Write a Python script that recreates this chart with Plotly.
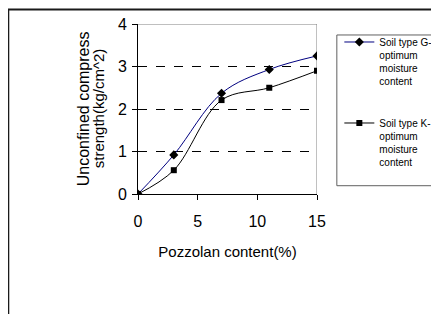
import plotly.graph_objects as go

# ---- data ----
pozzolan = [0, 3, 7, 11, 15]
soil_g = [0.0, 0.92, 2.37, 2.93, 3.25]
soil_k = [0.0, 0.56, 2.21, 2.50, 2.90]
name_g = "Soil type G-<br>optimum<br>moisture<br>content"
name_k = "Soil type K-<br>optimum<br>moisture<br>content"
x_ticks = [0, 5, 10, 15]
y_ticks = [0, 1, 2, 3, 4]

OFF = 8  # page body margin
W, H = 439 - OFF, 314 - OFF
# plot area in page pixels
PL, PR, PT, PB = 138, 316.7, 24, 194.3
L, R, T, B = PL - OFF, PR - OFF, PT - OFF, PB - OFF
pw, ph = R - L, B - T

def px_x(p):  # page px -> paper
    return (p - OFF - L) / pw

def px_y(p):
    return (B - (p - OFF)) / ph

FONT = "Liberation Sans, Arial, sans-serif"

fig = go.Figure()
fig.add_trace(go.Scatter(
    x=pozzolan, y=soil_g, name=name_g, mode="lines+markers",
    line=dict(color="#000080", width=1, shape="spline", smoothing=1),
    marker=dict(symbol="diamond", size=7, color="black"),
    legendgroup="g",
))
fig.add_trace(go.Scatter(
    x=pozzolan, y=soil_k, name=name_k, mode="lines+markers",
    line=dict(color="black", width=1, shape="spline", smoothing=1),
    marker=dict(symbol="square", size=6, color="black"),
    legendgroup="k",
))

fig.update_layout(
    width=W, height=H,
    margin=dict(l=L, r=W - R, t=T, b=H - B, pad=0, autoexpand=False),
    paper_bgcolor="white", plot_bgcolor="white",
    font=dict(family=FONT, color="black", size=15),
    showlegend=True,
    legend=dict(
        x=px_x(339), y=px_y(29), xanchor="left", yanchor="top",
        font=dict(size=10, family=FONT, color="black"),
        valign="top", tracegroupgap=26, borderwidth=0,
        bgcolor="rgba(0,0,0,0)", itemwidth=30,
    ),
    xaxis=dict(
        range=[0, 15], tickvals=x_ticks, showgrid=False, zeroline=False,
        showline=True, linecolor="black", linewidth=1,
        ticks="outside", ticklen=5, tickcolor="black",
        tickfont=dict(size=16), ticklabelstandoff=8, automargin=False,
        title=dict(text="Pozzolan content(%)", font=dict(size=15), standoff=17),
    ),
    yaxis=dict(
        range=[0, 4], tickvals=y_ticks, showgrid=True, gridcolor="black",
        griddash="dash", gridwidth=1, zeroline=False,
        showline=True, linecolor="black", linewidth=1,
        ticks="outside", ticklen=5, tickcolor="black",
        tickfont=dict(size=16), ticklabelstandoff=2, automargin=False,
    ),
    shapes=[
        # grey top and right plot frame
        dict(type="line", xref="x", yref="y", x0=0, x1=15, y0=4, y1=4,
             line=dict(color="#808080", width=1), layer="between"),
        dict(type="line", xref="x", yref="y", x0=15, x1=15, y0=0, y1=4,
             line=dict(color="#808080", width=1), layer="between"),
        # legend box
        dict(type="rect", xref="paper", yref="paper",
             x0=px_x(336.5), x1=px_x(460), y0=px_y(186), y1=px_y(35),
             line=dict(color="#606060", width=1), layer="below"),
        # outer chart border
        dict(type="rect", xref="paper", yref="paper",
             x0=px_x(8.5), x1=px_x(470), y0=px_y(340), y1=px_y(9.5),
             line=dict(color="#1a1a1a", width=2), layer="below"),
    ],
    annotations=[
        dict(text="Unconfined compress", xref="paper", yref="paper",
             x=px_x(83), y=px_y(108.5), textangle=-90, showarrow=False,
             font=dict(size=16), xanchor="center", yanchor="middle"),
        dict(text="strength(kg/cm^2)", xref="paper", yref="paper",
             x=px_x(98), y=px_y(108.5), textangle=-90, showarrow=False,
             font=dict(size=15), xanchor="center", yanchor="middle"),
    ],
)

fig.write_html("out.html")
